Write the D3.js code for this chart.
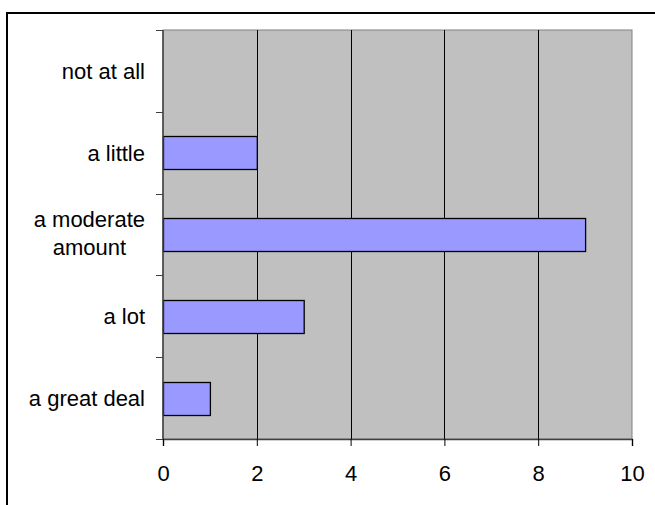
<!DOCTYPE html>
<html>
<head>
<meta charset="utf-8">
<script src="https://cdn.jsdelivr.net/npm/d3@7"></script>
<style>
  html, body { margin: 0; padding: 0; background: #fff; }
  svg { display: block; font-family: Arial, "Liberation Sans", sans-serif; }
</style>
</head>
<body>
<script>
// Responses, top to bottom, and how many people picked each
const categories = ["not at all", "a little", "a moderate amount", "a lot", "a great deal"];
const counts = [0, 2, 9, 3, 1];
// Wrapped label lines for each category
const labelLines = [["not at all"], ["a little"], ["a moderate", "amount"], ["a lot"], ["a great deal"]];
const xTicks = [0, 2, 4, 6, 8, 10];

const W = 655, H = 505;
const plot = { left: 163, top: 30, right: 632, bottom: 439 };
const fontSize = 22;

const svg = d3.select("body").append("svg").attr("width", W).attr("height", H);

// Outer chart frame (runs off the right and bottom edges)
svg.append("rect")
  .attr("x", 7).attr("y", 13).attr("width", 700).attr("height", 600)
  .attr("fill", "#fff").attr("stroke", "#000").attr("stroke-width", 2);

const x = d3.scaleLinear().domain([0, 10]).range([plot.left, plot.right]);
const y = d3.scaleBand().domain(categories).range([plot.top, plot.bottom]).padding(0);

// Plot area background
svg.append("rect")
  .attr("x", plot.left).attr("y", plot.top)
  .attr("width", plot.right - plot.left).attr("height", plot.bottom - plot.top)
  .attr("fill", "#c0c0c0").attr("stroke", "#808080").attr("stroke-width", 1);

// Vertical gridlines
svg.append("g").selectAll("line")
  .data(xTicks.filter(t => t > 0 && t < 10))
  .join("line")
  .attr("x1", d => Math.round(x(d)) + 0.5).attr("x2", d => Math.round(x(d)) + 0.5)
  .attr("y1", plot.top).attr("y2", plot.bottom)
  .attr("stroke", "#000").attr("stroke-width", 1);

// Bars
const barH = y.bandwidth() * 0.4;
svg.append("g").selectAll("rect")
  .data(categories.map((c, i) => ({ c, v: counts[i] })).filter(d => d.v > 0))
  .join("rect")
  .attr("x", x(0) + 0.5)
  .attr("y", d => Math.round(y(d.c) + (y.bandwidth() - barH) / 2) + 0.5)
  .attr("width", d => x(d.v) - x(0))
  .attr("height", Math.round(barH))
  .attr("fill", "#9999ff").attr("stroke", "#000").attr("stroke-width", 1.3);

// Bottom value axis
const xAxis = svg.append("g")
  .attr("transform", `translate(0,${plot.bottom})`)
  .call(d3.axisBottom(x).tickValues(xTicks).tickSize(7).tickPadding(19).tickFormat(d3.format("d")));
xAxis.select(".domain").attr("stroke", "#404040").attr("stroke-width", 1.5);
xAxis.selectAll(".tick line").attr("stroke", "#000");
xAxis.selectAll(".tick text").attr("font-size", fontSize).attr("fill", "#000")
  .attr("font-family", "Arial, 'Liberation Sans', sans-serif");

// Left category axis: ticks sit on the band boundaries
const boundaries = categories.map(c => y(c)).concat([plot.bottom]);
svg.append("line")
  .attr("x1", plot.left).attr("x2", plot.left)
  .attr("y1", plot.top).attr("y2", plot.bottom)
  .attr("stroke", "#404040").attr("stroke-width", 1.5);
svg.append("g").selectAll("line")
  .data(boundaries)
  .join("line")
  .attr("x1", plot.left - 7).attr("x2", plot.left)
  .attr("y1", d => Math.round(d) + 0.5).attr("y2", d => Math.round(d) + 0.5)
  .attr("stroke", "#404040").attr("stroke-width", 1);

// Category labels, right-aligned block with wrapped lines centred
const lineH = 28;
const labels = svg.append("g").attr("font-size", fontSize).attr("fill", "#000");
categories.forEach((c, i) => {
  const lines = labelLines[i];
  const cy = y(c) + y.bandwidth() / 2 - (lines.length > 1 ? 1.5 : 0);
  const t = labels.append("text").attr("text-anchor", "middle");
  // measure the widest line to right-align the block at the axis
  const tmp = labels.append("text").text(lines.reduce((a, b) => a.length >= b.length ? a : b));
  const wMax = tmp.node().getComputedTextLength();
  tmp.remove();
  const cx = 145 - wMax / 2;
  lines.forEach((ln, k) => {
    t.append("tspan")
      .attr("x", cx)
      .attr("y", cy + (k - (lines.length - 1) / 2) * lineH)
      .attr("dy", "0.36em")
      .text(ln);
  });
});
</script>
</body>
</html>
